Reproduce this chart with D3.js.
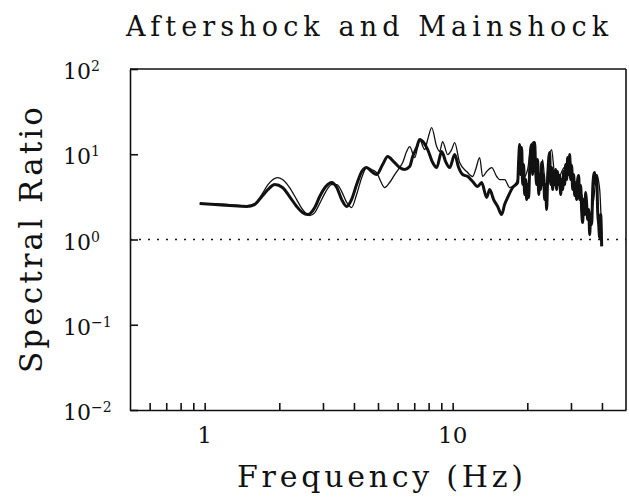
<!DOCTYPE html>
<html>
<head>
<meta charset="utf-8">
<script src="https://cdn.jsdelivr.net/npm/d3@7"></script>
<style>
  body { margin: 0; background: #fff; }
  text { font-family: "DejaVu Serif", "Liberation Serif", serif; fill: #111; }
</style>
</head>
<body>
<svg id="chart" width="629" height="498"></svg>
<script>
// Axis ticks
const xTickValues = [0.6, 0.7, 0.8, 0.9, 1, 2, 3, 4, 5, 6, 7, 8, 9, 10, 20, 30, 40];
const xTickLabels = [1, 10];
const yTickExponents = [-2, -1, 0, 1, 2];

// Heavy trace: frequency (Hz) and spectral ratio
const heavyFreq = [0.955, 1.10, 1.26, 1.48, 1.59, 1.70, 1.80, 1.92, 2.06, 2.20, 2.35, 2.48, 2.60, 2.78, 2.91,
  3.08, 3.25, 3.41, 3.57, 3.74, 3.91, 4.10, 4.30, 4.50, 4.71, 4.94, 5.22, 5.47, 5.78, 6.11, 6.40, 6.71, 6.90,
  7.16, 7.36, 7.64, 7.93, 8.31, 8.62, 9.03, 9.37, 9.73, 10.19, 10.57, 10.97, 11.50, 12.04, 12.61, 13.09, 13.71,
  14.10, 14.63, 15.19, 15.76, 16.20, 16.67, 17.46,
  18.29, 18.46, 18.63, 18.80, 18.98, 19.15, 19.33, 19.51, 19.70, 19.88, 20.06, 20.25, 20.44, 20.63, 20.82,
  21.01, 21.21, 21.41, 21.61, 21.81, 22.02, 22.23, 22.43, 22.64, 22.85, 23.06, 23.27, 23.49, 23.71, 23.93,
  24.15, 24.38, 24.61, 24.84, 25.07, 25.31, 25.55, 25.78, 26.02, 26.26, 26.51, 26.76, 27.01, 27.26, 27.51,
  27.77, 28.03, 28.29, 28.55, 28.82, 29.09, 29.36, 29.64, 29.91, 30.19, 30.48, 30.76, 31.04, 31.33, 31.62,
  31.92, 32.22, 32.52, 32.82, 33.13, 33.44, 33.75, 34.07, 34.39, 34.71, 35.03, 35.36, 35.69, 36.02, 36.36,
  36.70, 37.04, 37.39, 37.74, 38.08, 38.44, 38.80, 39.16, 39.53, 39.89];
const heavyRatio = [2.64, 2.57, 2.50, 2.44, 2.57, 3.19, 3.86, 4.41, 4.07, 3.19, 2.44, 2.07, 1.96, 2.37, 3.19,
  4.18, 4.66, 4.07, 2.94, 2.44, 2.94, 4.41, 6.27, 6.98, 6.27, 5.78, 7.57, 9.40, 8.21, 6.98, 6.62, 7.17, 9.40,
  11.98, 14.87, 13.72, 11.35, 7.99, 6.98, 10.76, 8.21, 6.98, 9.92, 6.98, 5.78, 5.48, 4.79, 4.18, 4.66, 3.11,
  3.86, 2.94, 2.44, 1.96, 2.57, 3.11, 4.07,
  4.66, 8.67, 12.99, 5.78, 11.98, 4.41, 7.57, 3.37, 5.05, 2.94, 4.41, 3.11, 6.62, 11.35, 12.99,
  5.78, 12.65, 13.72, 6.62, 4.41, 8.67, 3.37, 5.78, 3.86, 7.99, 4.41, 5.78, 2.94, 4.41, 2.25,
  5.05, 8.67, 10.47, 4.41, 6.98, 3.86, 6.27, 4.41, 6.62, 3.86, 6.27, 4.41, 5.63, 3.37, 5.05,
  3.86, 6.27, 4.41, 7.57, 5.05, 9.15, 5.78, 9.92, 5.05, 7.37, 3.86, 5.78, 3.28, 4.41, 2.94,
  5.05, 5.63, 2.94, 4.30, 2.13, 1.58, 2.94, 1.96, 3.56, 2.57, 1.72, 2.25, 1.14, 1.96, 1.50,
  3.86, 5.63, 6.10, 4.41, 5.63, 2.13, 1.50, 1.05, 1.96, 0.83];

// Light trace: frequency (Hz) and spectral ratio
const lightFreq = [0.955, 1.10, 1.26, 1.48, 1.59, 1.70, 1.80, 1.97, 2.06, 2.20, 2.35, 2.48, 2.65, 2.78, 2.91,
  3.08, 3.25, 3.41, 3.57, 3.74, 3.91, 4.10, 4.30, 4.50, 4.71, 4.94, 5.13, 5.32, 5.57, 5.84, 6.11, 6.29, 6.52,
  6.71, 7.03, 7.36, 7.71, 7.93, 8.23, 8.62, 8.86, 9.11, 9.55, 9.91, 10.19, 10.67, 11.39, 12.04, 12.38, 12.85,
  13.21, 13.71, 14.37, 15.05, 15.47, 16.20, 16.98, 17.78, 18.29, 18.80, 19.33, 20.06, 20.63, 21.21, 21.81,
  22.43, 23.06, 23.71, 24.38, 25.07, 25.78, 26.76, 27.77, 28.82, 29.64, 30.76, 31.92, 33.13, 34.39, 35.69,
  37.04, 38.08, 39.16, 39.89];
const lightRatio = [2.64, 2.64, 2.57, 2.50, 2.64, 3.37, 4.41, 5.33, 5.05, 4.07, 2.94, 2.25, 1.91, 2.07, 2.64,
  3.65, 4.41, 4.41, 3.65, 2.72, 2.37, 3.37, 5.33, 6.98, 6.62, 6.10, 4.79, 4.07, 4.66, 5.78, 6.98, 7.99, 10.76,
  12.31, 9.15, 14.87, 11.35, 14.87, 20.56, 12.31, 10.76, 14.09, 9.92, 11.35, 13.72, 7.99, 6.27, 5.48, 6.62, 9.15,
  5.48, 6.27, 6.98, 5.48, 5.05, 5.05, 4.07, 4.41, 5.05, 11.98, 5.33, 6.62, 11.98, 14.09, 6.62,
  5.05, 8.67, 3.86, 8.67, 11.35, 5.78, 5.33, 6.62, 7.57, 8.67, 5.05, 4.41, 3.37, 2.25, 1.96,
  2.94, 5.78, 3.86, 1.14];

const svg = d3.select("#chart");
const plotLeft = 130, plotRight = 626, plotTop = 69, plotBottom = 410;

const x = d3.scaleLog().domain([0.5, 50]).range([plotLeft, plotRight]);
const y = d3.scaleLog().domain([0.01, 100]).range([plotBottom, plotTop]);

// Frame (top and right edges)
const frame = svg.append("g").attr("stroke", "#111").attr("stroke-width", 1.6).attr("fill", "none");
frame.append("line").attr("x1", plotLeft).attr("x2", plotRight).attr("y1", plotTop).attr("y2", plotTop);
frame.append("line").attr("x1", plotRight).attr("x2", plotRight).attr("y1", plotTop).attr("y2", plotBottom);

// Bottom axis with inward ticks
const xAxis = svg.append("g")
  .attr("transform", `translate(0,${plotBottom})`)
  .call(d3.axisBottom(x).tickValues(xTickValues).tickSize(-7).tickSizeOuter(0).tickFormat(""));
// Left axis with inward ticks
const yAxis = svg.append("g")
  .attr("transform", `translate(${plotLeft},0)`)
  .call(d3.axisLeft(y).tickValues(yTickExponents.map(e => Math.pow(10, e))).tickSize(-8).tickSizeOuter(0).tickFormat(""));
[xAxis, yAxis].forEach(g => {
  g.selectAll("path, line").attr("stroke", "#111").attr("stroke-width", 1.6);
});

// Reference level at ratio = 1
svg.append("line")
  .attr("x1", plotLeft).attr("x2", plotRight)
  .attr("y1", y(1)).attr("y2", y(1))
  .attr("stroke", "#111").attr("stroke-width", 1.3)
  .attr("stroke-dasharray", "2,7");

// Tick labels
svg.append("g").selectAll("text")
  .data(xTickLabels)
  .join("text")
  .attr("x", d => x(d))
  .attr("y", plotBottom + 33)
  .attr("text-anchor", "middle")
  .attr("font-size", 23)
  .text(d => d);

const yLab = svg.append("g").selectAll("text")
  .data(yTickExponents)
  .join("text")
  .attr("x", 63)
  .attr("y", d => y(Math.pow(10, d)) + 10)
  .attr("font-size", 22);
yLab.append("tspan").text("10");
yLab.append("tspan").attr("font-size", 14).attr("dy", -8)
  .text(d => d < 0 ? "\u2212" + Math.abs(d) : d);

// Traces
const line = d3.line().x(d => x(d[0])).y(d => y(d[1])).curve(d3.curveMonotoneX);

svg.append("path")
  .datum(d3.zip(lightFreq, lightRatio))
  .attr("d", line)
  .attr("fill", "none").attr("stroke", "#111").attr("stroke-width", 1.3)
  .attr("stroke-linejoin", "round");
svg.append("path")
  .datum(d3.zip(heavyFreq, heavyRatio))
  .attr("d", line)
  .attr("fill", "none").attr("stroke", "#111").attr("stroke-width", 3)
  .attr("stroke-linejoin", "round");

// Titles
svg.append("text")
  .attr("x", 126).attr("y", 36)
  .attr("font-size", 27)
  .attr("textLength", 482).attr("lengthAdjust", "spacing")
  .text("Aftershock and Mainshock");

svg.append("text")
  .attr("x", 237).attr("y", 487)
  .attr("font-size", 30)
  .attr("textLength", 286).attr("lengthAdjust", "spacing")
  .text("Frequency (Hz)");

svg.append("text")
  .attr("transform", "translate(42,240) rotate(-90)")
  .attr("text-anchor", "middle")
  .attr("font-size", 31)
  .attr("textLength", 266).attr("lengthAdjust", "spacing")
  .text("Spectral Ratio");
</script>
</body>
</html>
